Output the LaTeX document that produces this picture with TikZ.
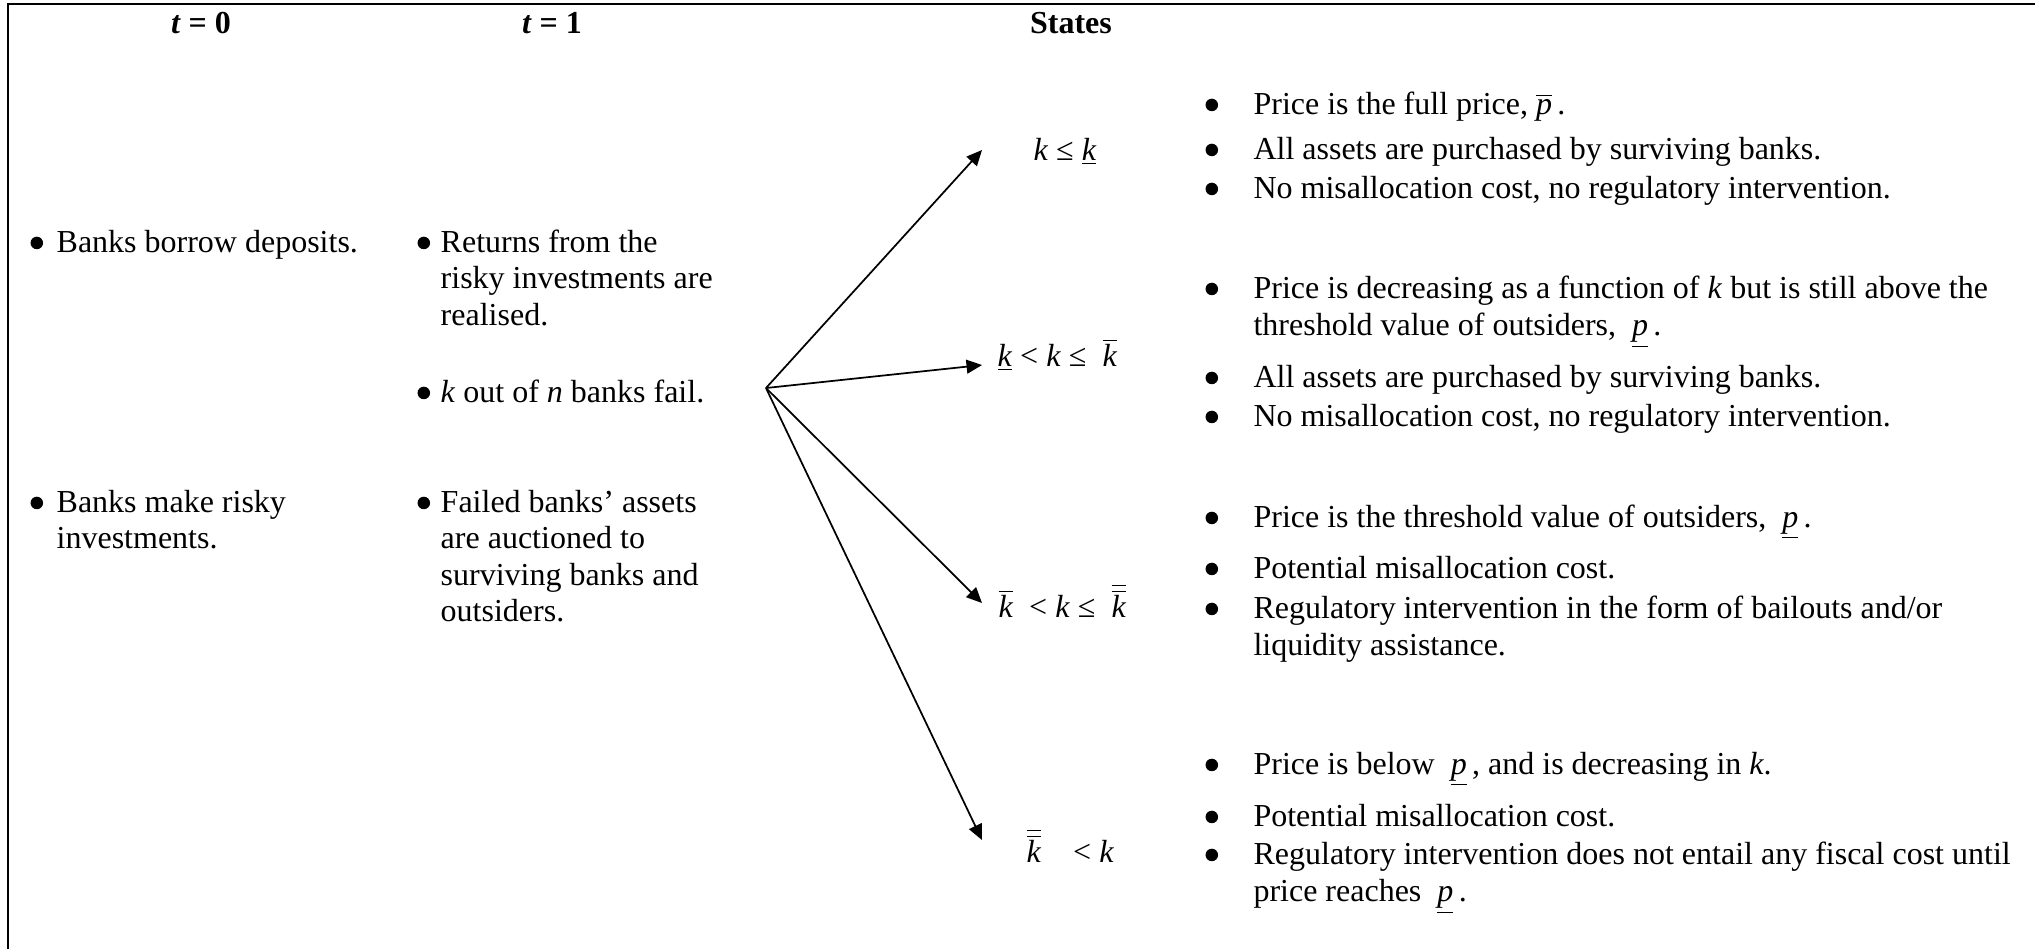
\documentclass[tikz,border=0pt]{standalone}
\usepackage{fontspec}
\setmainfont{Liberation Serif}
\usetikzlibrary{arrows.meta}
\newcommand\ki{\textit{k}}
\newcommand\pu{\underline{\textit{p}}}
\newcommand\po{$\overline{\mbox{\textit{p}}}$}
\newcommand\kbar{$\overline{\mbox{\ki}}$}
\newcommand\kbb{$\overline{\overline{\mbox{\ki}}}$}
\newcommand\bdot{\tikz[baseline=0pt]\fill (2.35pt,3.4pt) circle (2.35pt);}
\newcommand\rbul[1]{\parbox[t]{310pt}{\hangindent=18pt\hangafter=1\noindent\makebox[18pt][l]{\bdot}#1}}
\newcommand\lbul[2]{\parbox[t]{150pt}{\hangindent=#1\hangafter=1\noindent\makebox[#1][l]{\bdot}#2}}
\tikzset{
  frame/.style={line width=0.85pt},
  ttl/.style={anchor=base, inner sep=0pt, font=\fontsize{12}{14}\selectfont\bfseries},
  ltxt/.style={anchor=base west, inner sep=0pt, font=\fontsize{12}{13.7}\selectfont},
  rtxt/.style={anchor=base west, inner sep=0pt, font=\fontsize{12}{14.2}\selectfont},
  lbl/.style={anchor=base west, inner sep=0pt, font=\fontsize{12}{14}\selectfont},
  arr/.style={-{Triangle[length=5.8pt,width=5.2pt]}, line width=0.65pt}
}
\begin{document}
\begin{tikzpicture}[x=0.375pt,y=-0.375pt]
\useasboundingbox (0,0) rectangle (2035,949);
\draw[frame] (7.7,949) -- (7.7,4) -- (2035,4);
% titles
\node[ttl] (h0) at (201,33) {\textit{t} = 0};
\node[ttl] (h1) at (552,33) {\textit{t} = 1};
\node[ttl] (h2) at (1071,33) {States};
% left columns
\node[ltxt] (a1) at (30,252) {\lbul{9.8pt}{Banks borrow deposits.}};
\node[ltxt] (a2) at (30,512) {\lbul{9.8pt}{Banks make risky\\investments.}};
\node[ltxt] (b1) at (417,252) {\lbul{8.7pt}{Returns from the\\risky investments are\\realised.}};
\node[ltxt] (b2) at (417,402) {\lbul{8.7pt}{\ki{} out of \textit{n} banks fail.}};
\node[ltxt] (b3) at (417,512) {\lbul{8.7pt}{Failed banks' assets\\are auctioned to\\surviving banks and\\outsiders.}};
% right column
\node[rtxt] (s1a) at (1205,114) {\rbul{Price is the full price, \po\,.}};
\node[rtxt] (s1b) at (1205,159) {\rbul{All assets are purchased by surviving banks.}};
\node[rtxt] (s1c) at (1205,198) {\rbul{No misallocation cost, no regulatory intervention.}};
\node[rtxt] (s2a) at (1205,298) {\rbul{Price is decreasing as a function of \ki{} but is still above the\\threshold value of outsiders, \ \pu\,.}};
\node[rtxt] (s2b) at (1205,387) {\rbul{All assets are purchased by surviving banks.}};
\node[rtxt] (s2c) at (1205,426) {\rbul{No misallocation cost, no regulatory intervention.}};
\node[rtxt] (s3a) at (1205,527) {\rbul{Price is the threshold value of outsiders, \ \pu\,.}};
\node[rtxt] (s3b) at (1205,578) {\rbul{Potential misallocation cost.}};
\node[rtxt] (s3c) at (1205,618) {\rbul{Regulatory intervention in the form of bailouts and/or\\liquidity assistance.}};
\node[rtxt] (s4a) at (1205,774) {\rbul{Price is below \ \pu\,, and is decreasing in \ki.}};
\node[rtxt] (s4b) at (1205,826) {\rbul{Potential misallocation cost.}};
\node[rtxt] (s4c) at (1205,864) {\rbul{Regulatory intervention does not entail any fiscal cost until\\price reaches \ \pu\,.}};
% state labels
\node[lbl] (k1) at (1033,160) {\ki{} ≤ \underline{\ki}};
\node[lbl] (k2) at (997,366) {\underline{\ki} < \ki{} ≤ \ \kbar};
\node[lbl] (k3) at (998,617) {\kbar\ \ < \ki{} ≤ \ \kbb};
\node[lbl] (k4) at (1026,862) {\kbb\quad < \ki};
% arrows
\coordinate (o) at (766,388);
\coordinate (e1) at (982,150);
\coordinate (e2) at (982,365);
\coordinate (e3) at (982,603);
\coordinate (e4) at (982,840);
\draw[arr] (o) -- (e1);
\draw[arr] (o) -- (e2);
\draw[arr] (o) -- (e3);
\draw[arr] (o) -- (e4);
\end{tikzpicture}
\end{document}
